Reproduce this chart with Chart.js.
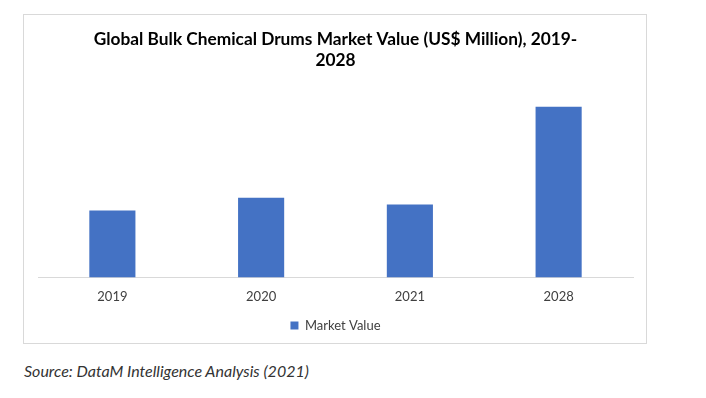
<!DOCTYPE html>
<html>
<head>
<meta charset="utf-8">
<script src="https://cdn.jsdelivr.net/npm/chart.js@4"></script>
<style>
  html, body { margin: 0; padding: 0; background: #fff; width: 706px; height: 398px; overflow: hidden; }
  #box { position: absolute; left: 23px; top: 14px; width: 624px; height: 330px; box-sizing: border-box; border: 1px solid #d9d9d9; }
  #box canvas { position: absolute; left: 0; top: 0; }
  #source { position: absolute; left: 24px; top: 361px; font-family: Lato, "Open Sans", sans-serif; font-style: italic; font-size: 16px; color: #333; white-space: nowrap; }
</style>
</head>
<body>
<div id="box"><canvas id="c" width="622" height="328"></canvas></div>
<div id="source">Source: DataM Intelligence Analysis (2021)</div>
<script>
const categories = ['2019', '2020', '2021', '2028'];
const marketValue = [4.0, 4.76, 4.36, 10.2];
const titleLines = ['Global Bulk Chemical Drums Market Value (US$ Million), 2019-', '2028'];
const seriesName = 'Market Value';

new Chart(document.getElementById('c'), {
  type: 'bar',
  data: {
    labels: categories,
    datasets: [{
      label: seriesName,
      data: marketValue,
      backgroundColor: '#4472C4',
      borderWidth: 0,
      barPercentage: 0.31,
      categoryPercentage: 1.0
    }]
  },
  options: {
    responsive: false,
    animation: false,
    layout: { padding: { left: 14, right: 13, top: 0, bottom: 1 } },
    plugins: {
      title: {
        display: true,
        text: titleLines,
        color: '#000',
        font: { family: 'Lato', weight: 'bold', size: 17.3, lineHeight: 1.2 },
        padding: { top: 14, bottom: 6 }
      },
      legend: {
        display: true,
        position: 'bottom',
        labels: {
          boxWidth: 8, boxHeight: 8,
          color: '#404040',
          font: { family: 'Lato', size: 13 },
          padding: 10
        }
      },
      tooltip: { enabled: false }
    },
    scales: {
      x: {
        grid: { display: false },
        border: { display: true, color: '#d9d9d9', width: 1 },
        ticks: { color: '#404040', font: { family: 'Lato', size: 13 }, padding: 4 }
      },
      y: {
        display: false,
        min: 0,
        max: 12
      }
    }
  }
});
</script>
</body>
</html>
